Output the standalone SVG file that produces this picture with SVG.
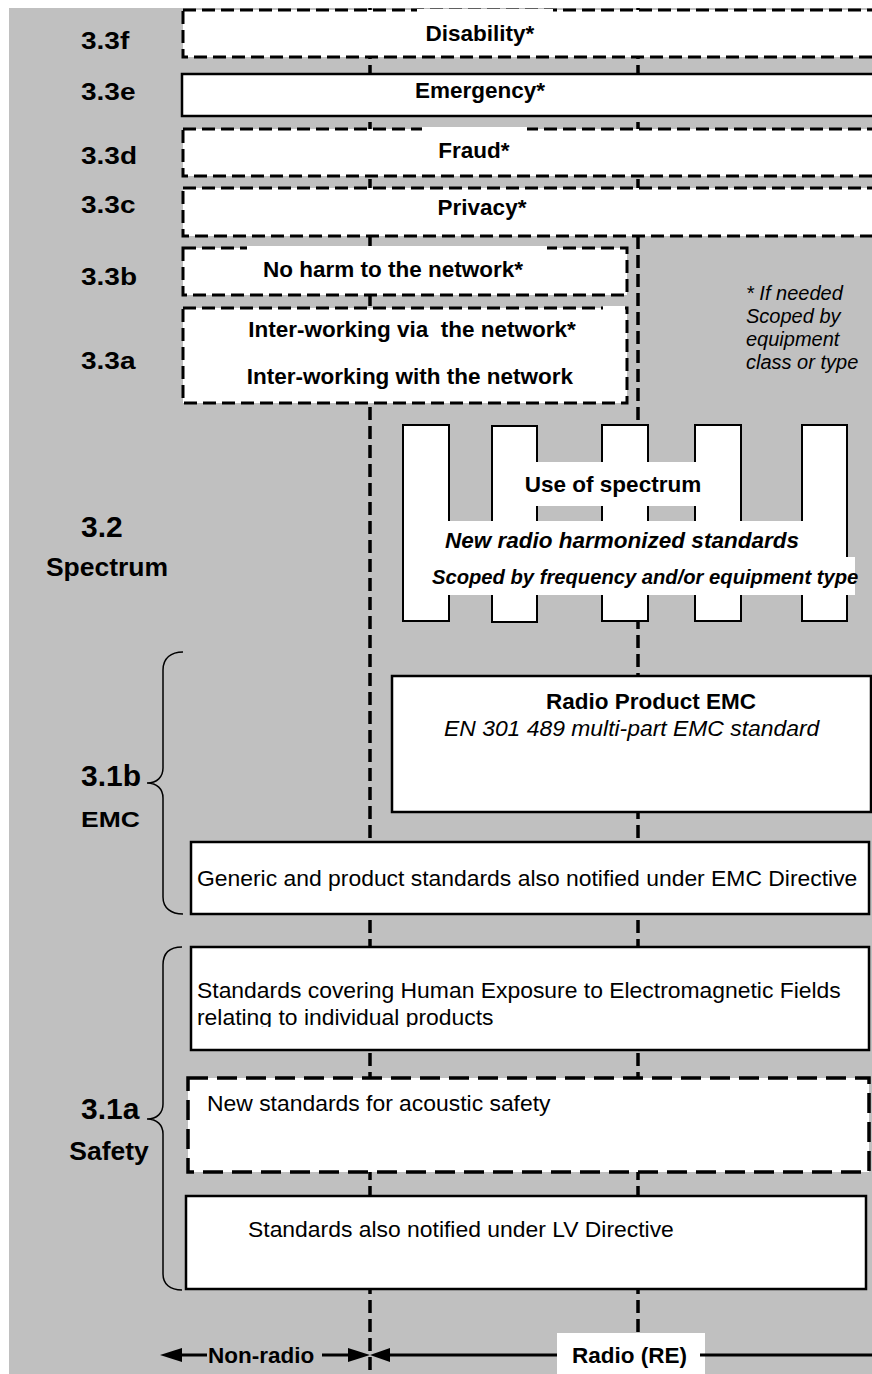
<svg xmlns="http://www.w3.org/2000/svg" width="872" height="1374" viewBox="0 0 872 1374">
<style>
.bg{fill:#c0c0c0}
.box{fill:#fff;stroke:#000;stroke-width:2.5}
.dbox{fill:#fff;stroke:#000;stroke-width:3;stroke-dasharray:13 6}
.dbox2{fill:#fff;stroke:#000;stroke-width:3.5;stroke-dasharray:20 9}
.bar{fill:#fff;stroke:#000;stroke-width:2}
.patch{fill:#fff}
.vline{fill:none;stroke:#000;stroke-width:3.5;stroke-dasharray:13 6}
.brace{fill:none;stroke:#000;stroke-width:1.5}
.axis{fill:none;stroke:#000;stroke-width:3}
.head{fill:#000}
text{font-family:"Liberation Sans",Arial,Helvetica,sans-serif;fill:#000}
.r{font-size:22.9px}
.fn{font-size:20px;font-style:italic}
.b{font-size:22.5px;font-weight:bold}
.bi{font-weight:bold;font-style:italic}
.i{font-style:italic}
.lbl{font-size:28px;font-weight:bold}
.big{font-size:30px;font-weight:bold}
.sub{font-size:26.5px;font-weight:bold}
</style>
<defs>
<clipPath id="clipHE"><rect x="190" y="940" width="680" height="87"/></clipPath>
</defs>
<rect class="bg" x="9" y="8" width="863" height="1366"/>
<g id="connectors">
<line class="vline" x1="370" y1="8" x2="370" y2="1374"/>
<line class="vline" x1="638" y1="8" x2="638" y2="1374"/>
</g>
<g id="labels-left">
<text class="lbl" transform="translate(81,48.5) scale(1,0.86)">3.3f</text>
<text class="lbl" transform="translate(81,100) scale(1,0.86)">3.3e</text>
<text class="lbl" transform="translate(81,164) scale(1,0.86)">3.3d</text>
<text class="lbl" transform="translate(81,213) scale(1,0.86)">3.3c</text>
<text class="lbl" transform="translate(81,285) scale(1,0.86)">3.3b</text>
<text class="lbl" transform="translate(81,369) scale(1,0.86)">3.3a</text>
<text class="big" x="81" y="537">3.2</text>
<text class="sub" x="107" y="576" text-anchor="middle">Spectrum</text>
<text class="big" x="81" y="786">3.1b</text>
<text class="sub" transform="translate(81,827) scale(1,0.86)">EMC</text>
<text class="big" x="81" y="1119">3.1a</text>
<text class="sub" x="109" y="1160" text-anchor="middle">Safety</text>
</g>
<g id="brace-emc"><path class="brace" d="M183,652 C171,652 163,658 163,670 L163,768 C163,777 157,783 147,783 C157,783 163,789 163,798 L163,897 C163,908 171,914 183,914"/></g>
<g id="brace-safety"><path class="brace" d="M182,947 C170,947 163,953 163,965 L163,1104 C163,1113 157,1119 147,1119 C157,1119 163,1125 163,1134 L163,1274 C163,1284 170,1290 182,1290"/></g>
<g id="disability">
<rect class="dbox" x="183" y="10" width="720" height="47"/>
<rect class="patch" x="417" y="9" width="136" height="4"/>
<text class="b" x="480" y="41" text-anchor="middle">Disability*</text>
</g>
<g id="emergency">
<rect class="box" x="182" y="74" width="720" height="42"/>
<text class="b" x="480" y="98" text-anchor="middle">Emergency*</text>
</g>
<g id="fraud">
<rect class="dbox" x="183" y="129" width="720" height="47"/>
<rect class="patch" x="422" y="127" width="105" height="4"/>
<text class="b" x="474" y="158" text-anchor="middle">Fraud*</text>
</g>
<g id="privacy">
<rect class="dbox" x="183" y="188" width="720" height="48"/>
<text class="b" x="482" y="215" text-anchor="middle">Privacy*</text>
</g>
<g id="noharm">
<rect class="dbox" x="183" y="248" width="444" height="47"/>
<rect class="patch" x="247" y="246" width="300" height="4"/>
<text class="b" x="393" y="277" text-anchor="middle">No harm to the network*</text>
</g>
<g id="interworking">
<rect class="dbox" x="183" y="308" width="444" height="95"/>
<rect class="patch" x="603" y="306" width="22" height="4"/>
<text class="b" x="412" y="337" text-anchor="middle" xml:space="preserve">Inter-working via  the network*</text>
<text class="b" x="410" y="384" text-anchor="middle" font-size="22.9">Inter-working with the network</text>
</g>
<g id="footnote">
<text class="fn" x="746" y="300">* If needed</text>
<text class="fn" x="746" y="323">Scoped by</text>
<text class="fn" x="746" y="346">equipment</text>
<text class="fn" x="746" y="369">class or type</text>
</g>
<g id="spectrum">
<rect class="bar" x="403" y="425" width="46" height="196"/>
<rect class="bar" x="492" y="426" width="45" height="196"/>
<rect class="bar" x="602" y="425" width="46" height="196"/>
<rect class="bar" x="695" y="425" width="46" height="196"/>
<rect class="bar" x="802" y="425" width="45" height="196"/>
<rect class="patch" x="533" y="462" width="164" height="44"/>
<rect class="patch" x="447" y="521" width="357" height="37"/>
<rect class="patch" x="430" y="557" width="425" height="38"/>
<text class="b" x="613" y="492" text-anchor="middle">Use of spectrum</text>
<text class="bi" x="622" y="548" font-size="22.5" text-anchor="middle">New radio harmonized standards</text>
<text class="bi" x="432" y="584" font-size="20.2">Scoped by frequency and/or equipment type</text>
</g>
<g id="radio-emc">
<rect class="box" x="392" y="676" width="479" height="136"/>
<text class="b" x="651" y="709" text-anchor="middle">Radio Product EMC</text>
<text class="r i" x="444" y="736">EN 301 489 multi-part EMC standard</text>
</g>
<g id="generic-emc">
<rect class="box" x="191" y="842" width="678" height="72"/>
<text class="r" x="197" y="886">Generic and product standards also notified under EMC Directive</text>
</g>
<g id="human-exposure">
<rect class="box" x="191" y="947" width="678" height="103"/>
<g clip-path="url(#clipHE)">
<text class="r" x="197" y="998">Standards covering Human Exposure to Electromagnetic Fields</text>
<text class="r" x="197" y="1025">relating to individual products</text>
</g>
</g>
<g id="acoustic">
<rect class="dbox2" x="188" y="1078" width="681" height="94"/>
<text class="r" x="207" y="1111">New standards for acoustic safety</text>
</g>
<g id="lv">
<rect class="box" x="186" y="1196" width="680" height="93"/>
<text class="r" x="248" y="1237">Standards also notified under LV Directive</text>
</g>
<g id="axis-nonradio">
<polygon class="head" points="160,1355 182,1348 182,1362"/>
<line class="axis" x1="180" y1="1355" x2="207" y2="1355"/>
<text class="b" x="208" y="1363">Non-radio</text>
<line class="axis" x1="322" y1="1355" x2="350" y2="1355"/>
<polygon class="head" points="370,1355 348,1348 348,1362"/>
</g>
<g id="axis-radio">
<polygon class="head" points="370,1355 390,1348 390,1362"/>
<line class="axis" x1="388" y1="1355" x2="560" y2="1355"/>
<rect class="patch" x="557" y="1333" width="148" height="41"/>
<line class="axis" x1="700" y1="1355" x2="872" y2="1355"/>
<text class="b" x="572" y="1363">Radio (RE)</text>
</g>
</svg>
